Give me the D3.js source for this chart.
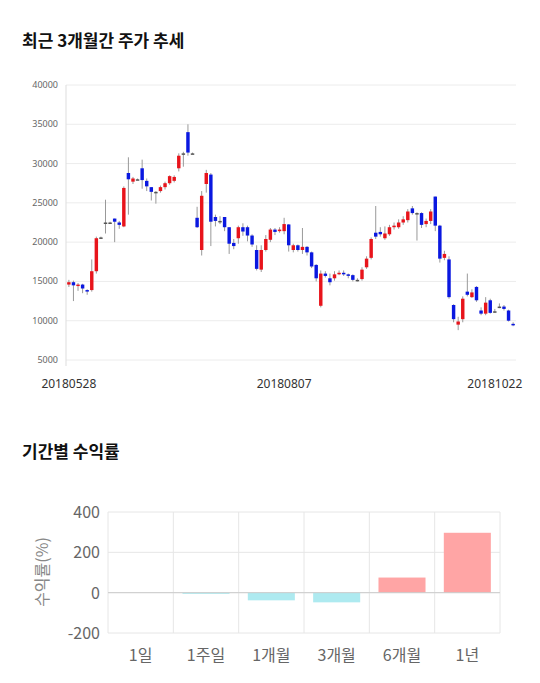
<!DOCTYPE html>
<html><head><meta charset="utf-8">
<script src="https://cdn.jsdelivr.net/npm/d3@7"></script>
<style>body{margin:0;background:#fff;font-family:"Noto Sans CJK KR","Noto Sans",sans-serif}</style>
</head><body><svg id="c" width="540" height="683"></svg>
<script>
// candles: [open, close, high, low]
var candles = [
  [14600,14900,15200,14300],[14900,14500,15100,12500],[14500,14600,14800,13800],[14600,14100,14700,13500],
  [13900,13800,14000,13300],[13900,16300,17800,13700],[16300,20500,20700,16000],[20600,20600,20700,20500],
  [22500,22500,25400,21100],[22500,22500,22600,22400],[23000,22600,23000,20000],[22500,22200,22700,21700],
  [22000,26900,27100,21900],[28800,28000,30800,23500],[27700,28100,28300,27400],[28000,28000,28100,27900],
  [29400,27900,30500,26800],[27800,27100,28100,26500],[27000,26400,27000,25300],[26400,26400,26500,24900],
  [26500,27000,27200,26300],[27000,27500,27700,26700],[27500,28400,28500,27300],[27800,28300,28500,27600],
  [29400,31000,31300,29000],[31300,31300,31500,29600],[34000,31400,35000,31000],[31300,31300,31400,31200],
  [23100,21900,24500,21800],[19000,25900,26500,18300],[27400,28800,29200,26300],[28600,22600,28800,19500],
  [23200,22700,23500,22000],[22700,22700,23300,22300],[23200,21900,23200,21400],[21900,19800,21900,18500],
  [19900,19500,20400,19100],[20500,21900,22100,19800],[21900,21350,22400,20800],[21900,20840,22100,20100],
  [20840,19700,21000,19400],[19000,16600,19600,16400],[16500,19000,19600,16200],[19000,20400,20900,18800],
  [20300,21600,21800,20000],[21600,21300,21800,20900],[21400,21600,21900,21200],[21400,22300,23100,21000],
  [22250,19600,22300,18800],[19000,19600,19800,18700],[19600,19000,19700,18800],[19000,19400,21800,18500],
  [19400,18700,19500,18300],[18700,16900,18800,16700],[17100,15400,17200,15000],[11900,16000,16400,11700],
  [16000,15700,16300,15500],[15400,14900,16000,14500],[15400,15900,16300,15100],[16000,16100,16400,15800],
  [16100,15900,16400,15700],[15900,15800,16000,15400],[15800,15200,15900,15000],[15200,15200,15400,15000],
  [15300,16500,16800,15100],[16800,17900,18200,16600],[18000,20400,20600,17800],[21200,20700,24600,20400],
  [21300,21000,21900,20700],[20500,21100,22000,20300],[21000,21900,22200,20800],[21900,22100,22500,21600],
  [21900,22500,22900,21700],[22500,22900,23300,22200],[22800,23900,24200,22500],[24300,23700,24600,23500],
  [23700,23700,23800,20200],[23700,22200,23800,21800],[22300,22700,23000,21900],[22700,23900,24200,22300],
  [25800,22100,25800,21400],[22100,17900,22200,17400],[18000,18500,18900,17700],[17800,13000,18200,12800],
  [12000,10200,12100,9800],[9500,9900,10500,8800],[10200,12800,13100,9800],[13700,13300,16000,13100],
  [13000,13600,14000,12900],[14300,12600,14400,12400],[11300,10900,11700,10700],[10900,12300,13000,10700],
  [12600,11000,12800,10900],[11200,11200,11500,11000],[11800,11800,12200,11600],[11800,11500,12000,11300],
  [11300,10000,11400,9900],[9600,9500,9800,9300]
];
var dateTicks = [[0,'20180528'],[47,'20180807'],[93,'20181022']];
var priceTicks = [5000,10000,15000,20000,25000,30000,35000,40000];

var periods = ['1일','1주일','1개월','3개월','6개월','1년'];
var returns = [0,-6,-38,-48,75,297];
var returnTicks = [-200,0,200,400];

var svg = d3.select('#c');
var grey = '#666';

svg.append('text').attr('x',22).attr('y',47).attr('font-size',17).attr('font-weight','bold').attr('fill','#111').text('최근 3개월간 주가 추세');
svg.append('text').attr('x',22).attr('y',458).attr('font-size',17).attr('font-weight','bold').attr('fill','#111').text('기간별 수익률');

// candle chart
var x = d3.scaleBand().domain(d3.range(candles.length)).range([66,516]).padding(0.25);
var y = d3.scaleLinear().domain([5000,40000]).range([360,85]);
var gTop = svg.append('g');
gTop.selectAll('.g').data(priceTicks).enter().append('line')
  .attr('x1',66).attr('x2',516).attr('y1',y).attr('y2',y).attr('stroke','#ececec');
gTop.append('line').attr('x1',66).attr('x2',66).attr('y1',85).attr('y2',366).attr('stroke','#ddd');
gTop.selectAll('.yl').data(priceTicks).enter().append('text')
  .attr('x',58).attr('y',function(d){return y(d)+3;}).attr('text-anchor','end')
  .attr('font-size',9).attr('font-family','Noto Sans').attr('fill',grey).text(function(d){return d;});
gTop.selectAll('.xl').data(dateTicks).enter().append('text')
  .attr('x',function(d){return x(d[0])+x.bandwidth()/2;}).attr('y',388).attr('text-anchor','middle')
  .attr('font-size',12).attr('font-family','Noto Sans').attr('fill','#333').text(function(d){return d[1];});
var c = gTop.selectAll('.c').data(candles).enter().append('g');
c.append('line')
  .attr('x1',function(d,i){return x(i)+x.bandwidth()/2;}).attr('x2',function(d,i){return x(i)+x.bandwidth()/2;})
  .attr('y1',function(d){return y(d[2]);}).attr('y2',function(d){return y(d[3]);}).attr('stroke','#999');
c.append('rect')
  .attr('x',function(d,i){return x(i);}).attr('width',x.bandwidth())
  .attr('y',function(d){return y(Math.max(d[0],d[1]));})
  .attr('height',function(d){return Math.max(1.5,Math.abs(y(d[0])-y(d[1])));})
  .attr('fill',function(d){return d[1]>d[0]?'#e8141b':(d[1]<d[0]?'#0a18e0':'#555');});

// returns chart
var bx = d3.scaleBand().domain(periods).range([108,500]);
var by = d3.scaleLinear().domain([-200,400]).range([633,512]);
var bot = svg.append('g');
bot.selectAll('.hg').data(returnTicks).enter().append('line')
  .attr('x1',108).attr('x2',500).attr('y1',by).attr('y2',by).attr('stroke','#e6e6e6');
bot.selectAll('.vg').data(periods.concat(['end'])).enter().append('line')
  .attr('x1',function(d,i){return 108+i*bx.bandwidth();}).attr('x2',function(d,i){return 108+i*bx.bandwidth();})
  .attr('y1',512).attr('y2',633).attr('stroke','#e6e6e6');
bot.selectAll('.b').data(returns).enter().append('rect')
  .attr('x',function(d,i){return bx(periods[i])+bx.bandwidth()*0.14;}).attr('width',bx.bandwidth()*0.72)
  .attr('y',function(d){return by(Math.max(0,d));}).attr('height',function(d){return Math.abs(by(d)-by(0));})
  .attr('fill',function(d){return d>=0?'#ffa5a5':'#aeeaf0';});
bot.append('line').attr('x1',108).attr('x2',500).attr('y1',by(0)).attr('y2',by(0)).attr('stroke','#ccc');
bot.selectAll('.byl').data(returnTicks).enter().append('text')
  .attr('x',100).attr('y',function(d){return by(d)+6;}).attr('text-anchor','end')
  .attr('font-size',16).attr('fill',grey).text(function(d){return d;});
bot.selectAll('.bxl').data(periods).enter().append('text')
  .attr('x',function(d){return bx(d)+bx.bandwidth()/2;}).attr('y',661).attr('text-anchor','middle')
  .attr('font-size',16).attr('fill',grey).text(function(d){return d;});
bot.append('text').attr('transform','translate(48,572) rotate(-90)').attr('text-anchor','middle')
  .attr('font-size',16).attr('fill','#888').text('수익률(%)');
</script></body></html>
